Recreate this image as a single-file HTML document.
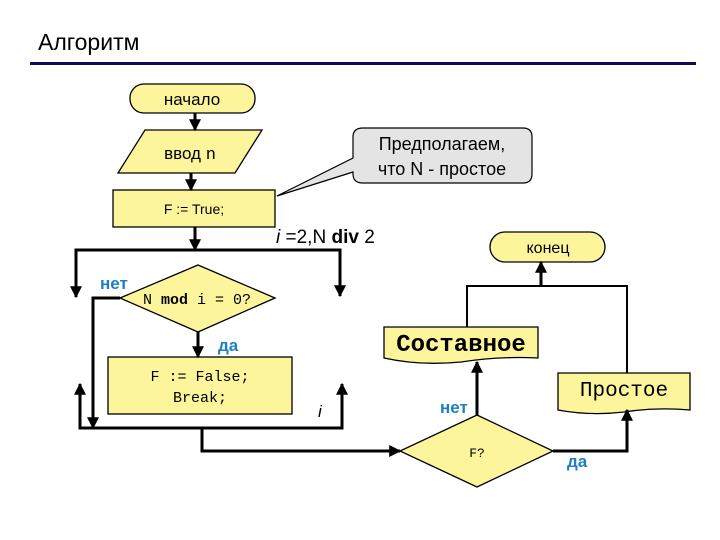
<!DOCTYPE html>
<html><head><meta charset="utf-8"><style>
html,body{margin:0;padding:0;background:#fff}
svg{display:block}
.s{font-family:"Liberation Sans","DejaVu Sans",sans-serif}
.m{font-family:"Liberation Mono","DejaVu Sans Mono",monospace}
.b{font-family:"Liberation Sans","DejaVu Sans",sans-serif;font-weight:bold;fill:#1f7fc4}
</style></head><body>
<svg width="720" height="540" viewBox="0 0 720 540" xmlns="http://www.w3.org/2000/svg">
<defs><marker id="a" viewBox="0 0 10 10" refX="9" refY="5" markerWidth="4" markerHeight="4" orient="auto"><path d="M0,0L10,5L0,10z" fill="#000"/></marker></defs>
<text x="38" y="50" class="s" font-size="23" fill="#000">Алгоритм</text>
<rect x="30" y="62" width="666" height="3" fill="#0d0d5c"/>
<g stroke="#000" stroke-width="1.3" fill="#fdf59c">
<rect x="130" y="84" width="125" height="29" rx="14"/>
<polygon points="145,130 262,130 235,173 118,173"/>
<rect x="113" y="190" width="162" height="37"/>
<polygon points="198,265 275,298 198,332 120,298"/>
<rect x="108" y="357" width="184" height="57"/>
<polygon points="477,415 553,451 477,487 400,451"/>
<rect x="490" y="232" width="115" height="30" rx="15"/>
<path d="M384,327H538V358Q500,356 461,362Q420,366 384,358Z"/>
<path d="M558,373H690V410Q656,407 624,412Q590,416 558,410Z"/>
</g>
<path d="M363,128H523Q532,128 532,137V174Q532,183 523,183H363Q353,183 353,174V172L277,196L353,158V137Q353,128 363,128Z" fill="#e4e4e4" stroke="#000" stroke-width="1.2"/>
<g stroke="#000" stroke-width="3" fill="none">
<line x1="195" y1="113" x2="195" y2="130" marker-end="url(#a)"/>
<line x1="191" y1="173" x2="191" y2="190" marker-end="url(#a)"/>
<line x1="195" y1="227" x2="195" y2="250" marker-end="url(#a)"/>
<polyline points="76,295 76,250 340,250 340,296" marker-end="url(#a)"/>
<line x1="76" y1="250" x2="76" y2="297" marker-end="url(#a)"/>
<polyline points="120,298 93,298 93,428" marker-end="url(#a)"/>
<line x1="198" y1="332" x2="198" y2="357" marker-end="url(#a)"/>
<polyline points="80,386 80,428 342,428 342,386"/>
<line x1="80" y1="428" x2="80" y2="384" marker-end="url(#a)"/>
<line x1="342" y1="428" x2="342" y2="384" marker-end="url(#a)"/>
<polyline points="202,428 202,451 400,451" marker-end="url(#a)"/>
<line x1="477" y1="415" x2="477" y2="362" marker-end="url(#a)"/>
<polyline points="553,451 627,451 627,410" marker-end="url(#a)"/>
<polyline points="467,327 467,286 627,286 627,373" stroke-width="2"/>
<line x1="541" y1="286" x2="541" y2="262" marker-end="url(#a)"/>
</g>
<text x="192" y="105" class="s" font-size="17" text-anchor="middle">начало</text>
<text x="190" y="159" class="s" font-size="17" text-anchor="middle">ввод <tspan class="m">n</tspan></text>
<text x="194" y="214" class="s" font-size="14" text-anchor="middle">F := True;</text>
<text x="442" y="150" class="s" font-size="18" text-anchor="middle">Предполагаем,</text>
<text x="442" y="175" class="s" font-size="18" text-anchor="middle">что N - простое</text>
<text x="276" y="243" class="s" font-size="19"><tspan font-style="italic">i</tspan> =2,N <tspan font-weight="bold">div</tspan> 2</text>
<text x="548" y="253" class="s" font-size="16" text-anchor="middle">конец</text>
<text x="100" y="289" class="b" font-size="17">нет</text>
<text x="197" y="304" class="m" font-size="15" text-anchor="middle">N <tspan font-weight="bold">mod</tspan> i = 0?</text>
<text x="218" y="351" class="b" font-size="17">да</text>
<text x="200" y="381" class="m" font-size="15" text-anchor="middle">F := False;</text>
<text x="200" y="402" class="m" font-size="15" text-anchor="middle">Break;</text>
<text x="318" y="417" class="s" font-size="17" font-style="italic">i</text>
<text x="461" y="351" class="m" font-size="24" font-weight="bold" text-anchor="middle">Составное</text>
<text x="624" y="396" class="m" font-size="21" text-anchor="middle">Простое</text>
<text x="440" y="413" class="b" font-size="17">нет</text>
<text x="477" y="457" class="m" font-size="13" text-anchor="middle">F?</text>
<text x="567" y="467" class="b" font-size="17">да</text>
</svg>
</body></html>
